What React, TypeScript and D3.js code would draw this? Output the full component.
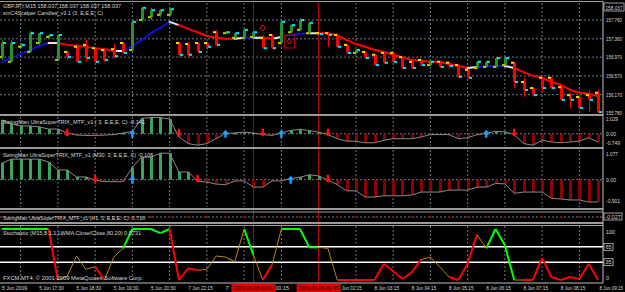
import React from 'react';
import * as d3 from 'd3';

const W = 625, H = 292;
const PR = 603; // plot right edge

// ---------- DATA ----------
const opens = [156.97,156.87,157.19,157.08,157.27,157.40,156.91,157.08,157.19,157.23,157.16,157.12,157.14,157.27,157.12,157.76,157.82,157.87,157.87,157.27,157.25,157.27,157.27,157.50,157.48,157.38,157.38,157.40,157.38,157.44,157.27,157.50,157.55,157.48,157.48,157.48,157.44,157.23,157.06,157.08,157.02,157.06,157.06,156.97,156.87,156.91,156.80,156.87,156.85,156.80,156.70,156.74,156.76,156.76,156.80,156.85,156.44,156.31,156.53,156.53,156.33,156.16,156.12,156.16,156.21];
const highs = [157.33,157.33,157.27,157.53,157.48,157.46,157.46,157.12,157.25,157.33,157.19,157.16,157.25,157.29,157.76,158.04,158.02,157.99,158.02,157.29,157.29,157.29,157.29,157.55,157.53,157.50,157.57,157.53,157.44,157.46,157.74,157.67,157.80,157.72,157.50,157.50,157.48,157.25,157.14,157.10,157.04,157.08,157.08,156.99,156.89,156.93,156.93,156.89,156.87,156.82,156.72,156.89,156.89,156.97,156.99,156.87,156.53,156.33,156.55,156.55,156.36,156.21,156.14,156.27,156.27];
const lows = [156.91,156.87,157.16,157.06,157.23,157.38,156.89,156.91,156.87,156.87,156.85,156.87,156.95,157.04,157.08,157.72,157.76,157.82,157.85,156.97,156.97,157.06,157.12,157.21,157.46,157.36,157.36,157.38,157.14,157.14,157.25,157.48,157.53,157.46,157.44,157.19,157.16,157.04,157.04,156.93,156.78,156.82,156.85,156.72,156.72,156.78,156.78,156.74,156.72,156.53,156.51,156.72,156.74,156.74,156.78,156.31,156.12,156.14,156.23,156.29,156.04,155.89,155.85,155.80,155.78];
const closes = [157.27,157.27,157.23,157.48,157.48,157.44,157.44,156.97,156.87,156.95,156.87,156.91,156.99,157.06,157.72,158.02,157.97,157.97,157.99,157.02,157.02,157.08,157.19,157.23,157.50,157.48,157.55,157.50,157.16,157.16,157.72,157.65,157.76,157.70,157.46,157.44,157.19,157.06,157.12,156.95,156.80,156.85,156.87,156.74,156.74,156.80,156.87,156.76,156.78,156.55,156.53,156.87,156.87,156.95,156.95,156.44,156.27,156.16,156.31,156.31,156.06,156.06,155.89,156.06,155.80];

const maValues = [156.87,156.95,157.04,157.12,157.21,157.27,157.27,157.23,157.21,157.19,157.16,157.14,157.10,157.10,157.21,157.33,157.48,157.59,157.72,157.65,157.57,157.50,157.42,157.38,157.36,157.36,157.38,157.38,157.38,157.36,157.40,157.44,157.46,157.48,157.48,157.48,157.44,157.33,157.25,157.19,157.12,157.08,157.02,156.97,156.91,156.89,156.87,156.87,156.82,156.78,156.74,156.76,156.78,156.78,156.78,156.74,156.65,156.57,156.53,156.44,156.38,156.27,156.21,156.19,156.14];
// segment colours: b = rising (blue), r = falling (red), w = flat (white)
const maSegColors = 'bbbbbwrrrrrrwbbbbbwrrrrrrwbwrwbbbwrrrrrrrrrrrrrrrrwbbbwrrrrrrrrr';

const trixM15 = [0.85,0.6,0.48,0.48,0.42,0.29,0.29,0.05,-0.08,-0.1,-0.1,-0.08,-0.05,0.05,0.15,0.95,1.0,1.0,0.9,-0.2,-0.6,-0.7,-0.6,-0.3,0.02,0.05,0.1,0.05,-0.05,-0.1,0.05,0.2,0.28,0.2,0.1,-0.05,-0.3,-0.45,-0.45,-0.55,-0.55,-0.4,-0.3,-0.3,-0.3,-0.2,-0.05,-0.05,-0.05,-0.3,-0.25,-0.05,0.02,0.15,0.12,-0.05,-0.6,-0.7,-0.4,-0.5,-0.55,-0.5,-0.45,-0.25,-0.5];
const trixM15Up = [14,24,30,52];
const trixM15Down = [7,19,28,35,55];

const trixM30 = [0.67,0.83,0.83,0.83,0.83,0.71,0.39,0.39,0.11,0.11,-0.02,-0.08,-0.08,-0.08,0.5,0.91,0.91,1.07,1.07,0.31,0.31,-0.05,-0.1,-0.18,-0.2,-0.05,-0.05,-0.3,-0.3,-0.05,-0.05,0.05,0.1,0.2,0.15,-0.02,-0.2,-0.45,-0.45,-0.7,-0.7,-0.65,-0.65,-0.65,-0.62,-0.5,-0.5,-0.5,-0.42,-0.42,-0.42,-0.3,-0.3,-0.15,-0.17,-0.55,-0.5,-0.5,-0.5,-0.75,-0.78,-0.82,-0.82,-0.9,-0.9];
const trixM30Up = [14,31];
const trixM30Down = [10,21,35];

const stochValues = [100,100,100,100,100,100,0,7.5,47,21,26,0,45,62,100,100,100,92,100,0,23,19,21,47,45,36,100,49,0,30,100,100,100,64,64,62,0,0,0,0,0,32,17,2,15,40,45,26,6,0,32,89,62,100,68,0,0,0,43,6,0,6,2,32,0];
// g = green, r = red, o = brown (per segment)
const stochSegColors = 'gggggrooooroogggggrrrooooogoroggggoorrrrrrrrrooorrrogggorrrrrrrrr';
const stochLevels = [65, 35];

// time labels every 4 bars; the parts hidden behind the red line boxes are not shown
const timeLabels = ['5 Jun 2009','5 Jun 17:30','5 Jun 18:30','5 Jun 19:30','5 Jun 20:30','7 Jun 22:15','7','00:15','','Jun 02:15','8 Jun 03:15','8 Jun 04:15','8 Jun 05:15','8 Jun 06:15','8 Jun 07:15','8 Jun 08:15','8 Jun 09:15'];
const timeLabelShift = [0,0,0,0,0,0,0,12.5,0,4.5,0,0,0,0,0,0,0];
const priceTicks = [157.76, 157.36, 156.97, 156.57, 156.17, 155.78];
const priceTickLabels = ['157.760','157.360','156.970','156.570','156.170','155.780'];
const vLineBars = [27, 34];
const vLineLabels = ['2009.06.08 00:00', '2009.06.08 01:45'];

// ---------- LAYOUT ----------
const N = closes.length;
const x = d3.scaleLinear().domain([0, N - 1]).range([2, 598]);
const yP = d3.scaleLinear().domain([155.78, 157.76]).range([113, 20]);
const yT1 = d3.scaleLinear().domain([-0.749, 1.029]).range([146, 117]);
const yT2 = d3.scaleLinear().domain([-0.901, 1.077]).range([202, 153]);
const yS = d3.scaleLinear().domain([0, 100]).range([280, 229]);

const FONT = 'Liberation Sans, Arial, sans-serif';
const TXT = '#d8d8d8';
const GRID = '#6d7b8a';

function T({ x, y, s, size = 6, fill = TXT, len, anchor }: any) {
  return (
    <text x={x} y={y} fontSize={size} fill={fill} fontFamily={FONT}
      textLength={len} lengthAdjust={len ? 'spacingAndGlyphs' : undefined}
      textAnchor={anchor}>{s}</text>
  );
}

function UpArrow({ cx, y, color }: any) {
  return <path d={`M${cx},${y} L${cx + 3.5},${y + 4} L${cx + 1.2},${y + 4} L${cx + 1.2},${y + 8} L${cx - 1.2},${y + 8} L${cx - 1.2},${y + 4} L${cx - 3.5},${y + 4} Z`} fill={color} />;
}
function DownArrow({ cx, y, color }: any) {
  return <path d={`M${cx},${y} L${cx + 3.5},${y - 4} L${cx + 1.2},${y - 4} L${cx + 1.2},${y - 8} L${cx - 1.2},${y - 8} L${cx - 1.2},${y - 4} L${cx - 3.5},${y - 4} Z`} fill={color} />;
}

export default function App() {
  const idx = d3.range(N);
  const gridX = d3.range(2, N, 4).map((i) => x(i));
  const maColor: any = { b: '#1010d0', r: '#ff0000', w: '#e8e8e8' };
  const stColor: any = { g: '#00ff00', r: '#ff0000', o: '#b8860b' };
  const stWidth: any = { g: 2, r: 2, o: 1 };

  const hLineDash = (y: number, key: string) => (
    <line key={key} x1={0} x2={PR} y1={y} y2={y} stroke={GRID} strokeDasharray="2,2" strokeWidth={1} />
  );

  const trixLine1 = d3.line<number>().x((_, i) => x(i)).y((d) => yT1(d))(trixM15) || '';
  const trixLine2 = d3.line<number>().x((_, i) => x(i)).y((d) => yT2(d))(trixM30) || '';
  const lastLabel = timeLabels.length - 1;

  return (
    <svg width={W} height={H} style={{ position: 'absolute', left: 0, top: 0, background: '#000' }}>
      <rect x={0} y={0} width={W} height={H} fill="#000" />

      {gridX.map((gx, k) => (
        <g key={'gx' + k}>
          <line x1={gx} x2={gx} y1={3} y2={113} stroke={GRID} strokeDasharray="2,2" />
          <line x1={gx} x2={gx} y1={117} y2={146} stroke={GRID} strokeDasharray="2,2" />
          <line x1={gx} x2={gx} y1={150} y2={207} stroke={GRID} strokeDasharray="2,2" />
          <line x1={gx} x2={gx} y1={226} y2={282} stroke={GRID} strokeDasharray="2,2" />
        </g>
      ))}
      {priceTicks.slice(0, 5).map((p, k) => hLineDash(yP(p), 'hp' + k))}
      {hLineDash(yT1(0), 'z1')}
      {hLineDash(yT2(0), 'z2')}
      {hLineDash(217, 'z3')}

      {vLineBars.map((b, k) => (
        <line key={'vl' + k} x1={x(b)} x2={x(b)} y1={3} y2={283} stroke="#c00000" strokeWidth={1} />
      ))}

      {idx.slice(0, N - 1).map((i) => (
        <line key={'ma' + i} x1={x(i)} y1={yP(maValues[i])} x2={x(i + 1)} y2={yP(maValues[i + 1])}
          stroke={maColor[maSegColors[i]]} strokeWidth={2} strokeLinecap="round" />
      ))}

      {idx.map((i) => {
        const up = closes[i] >= opens[i];
        const col = up ? '#2a8f2a' : '#ff0000';
        const top = yP(Math.max(opens[i], closes[i]));
        const bot = yP(Math.min(opens[i], closes[i]));
        const cx = Math.round(x(i));
        return (
          <g key={'c' + i}>
            <line x1={cx + 0.5} x2={cx + 0.5} y1={yP(highs[i])} y2={yP(lows[i])} stroke={col} strokeWidth={1} />
            <rect x={cx - 1} y={top} width={3} height={Math.max(1.5, bot - top)} fill={col} />
            <rect x={cx - 3} y={yP(opens[i]) - 1} width={3} height={2} fill={up ? '#b8c800' : '#ffd700'} />
            <rect x={cx + 1} y={yP(closes[i]) - 1} width={3} height={2} fill="#00e5ff" />
          </g>
        );
      })}

      <path d={`M${x(28)},${yP(157.59) - 3} l3,3 l-3,3 l-3,-3 Z`} fill="none" stroke="#ff2020" strokeWidth={1} />
      <rect x={x(30) + 3} y={yP(157.44)} width={10} height={13} fill="none" stroke="#c00000" strokeWidth={1} />
      <path d={`M${x(30) + 8},${yP(157.44) + 4} l2.5,2.5 l-2.5,2.5 l-2.5,-2.5 Z`} fill="none" stroke="#ff2020" strokeWidth={1} />

      {idx.map((i) => {
        const v = trixM15[i];
        const y0 = yT1(0), y1 = yT1(v);
        return <rect key={'t1' + i} x={Math.round(x(i)) - 1} y={Math.min(y0, y1)} width={3} height={Math.max(1.5, Math.abs(y1 - y0))} fill={v >= 0 ? '#3aa55a' : '#8b0000'} />;
      })}
      <path d={trixLine1} fill="none" stroke="#8a8a8a" strokeWidth={1} />
      {trixM15Up.map((i) => <UpArrow key={'u1' + i} cx={x(i)} y={yT1(0) - 4} color="#1e9fff" />)}
      {trixM15Down.map((i) => <DownArrow key={'d1' + i} cx={x(i)} y={yT1(0) + 3} color="#ff1010" />)}

      {idx.map((i) => {
        const v = trixM30[i];
        const y0 = yT2(0), y1 = yT2(v);
        return <rect key={'t2' + i} x={Math.round(x(i)) - 1} y={Math.min(y0, y1)} width={3} height={Math.max(1.5, Math.abs(y1 - y0))} fill={v >= 0 ? '#3aa55a' : '#8b0000'} />;
      })}
      <path d={trixLine2} fill="none" stroke="#8a8a8a" strokeWidth={1} />
      {trixM30Up.map((i) => <UpArrow key={'u2' + i} cx={x(i)} y={yT2(0) - 4} color="#1e9fff" />)}
      {trixM30Down.map((i) => <DownArrow key={'d2' + i} cx={x(i)} y={yT2(0) + 3} color="#ff1010" />)}

      {idx.filter((i) => i % 2 === 0).map((i) => (
        <rect key={'t3' + i} x={x(i) - 1} y={216} width={2} height={2} fill="#a00000" />
      ))}

      {stochLevels.map((l, k) => (
        <line key={'sl' + k} x1={0} x2={PR} y1={yS(l)} y2={yS(l)} stroke="#ffffff" strokeWidth={1.5} />
      ))}
      {idx.slice(0, N - 1).map((i) => {
        const c = stochSegColors[i];
        return <line key={'st' + i} x1={x(i)} y1={yS(stochValues[i])} x2={x(i + 1)} y2={yS(stochValues[i + 1])}
          stroke={stColor[c]} strokeWidth={stWidth[c]} />;
      })}

      <line x1={0} x2={PR} y1={1.5} y2={1.5} stroke="#9a9a9a" strokeWidth={1} />
      <rect x={0} y={114} width={PR} height={2} fill="#9a9a9a" />
      <rect x={0} y={147} width={PR} height={2} fill="#9a9a9a" />
      <rect x={0} y={208} width={PR} height={2} fill="#9a9a9a" />
      <rect x={0} y={211.5} width={PR} height={1} fill="#9a9a9a" />
      <rect x={0} y={222} width={PR} height={2} fill="#9a9a9a" />
      <rect x={0} y={225} width={PR} height={1} fill="#9a9a9a" />
      <line x1={PR} x2={PR} y1={1} y2={283} stroke="#c0c0c0" />
      <line x1={0} x2={PR} y1={283} y2={283} stroke="#c0c0c0" />

      <T x={3} y={8} s="GBPJPY,M15  158.037 158.037 158.037 158.037" len={118} />
      <T x={3} y={14.5} s="smC4Scalper Candles_v3.1 (3, E,E,E, C)" len={100} />
      <T x={3} y={124} s="SwingMan UltraSuperTRIX_MTF_v1 ( 3, E,E,E, C) -0.141" len={142} />
      <T x={3} y={157} s="SwingMan UltraSuperTRIX_MTF_v1 (M30, 3, E,E,E, C) -0.108" len={150} />
      <T x={3} y={219.5} s="SwingMan UltraSuperTRIX_MTF_v1 (H1, 3, E,E,E, C) -0.716" len={142} />
      <T x={3} y={235} s="Stochastic (M15,8,1,1,LWMA,Close/Close,80,20) 0.0731" len={138} />
      <T x={3} y={280} s="FXCM MT4, © 2001-2009 MetaQuotes Software Corp." len={140} />

      <rect x={604} y={3} width={20} height={8} fill="#000" stroke="#c0c0c0" strokeWidth={0.8} />
      <T x={605.5} y={9.5} s="158.037" size={5.5} len={17} />
      {priceTicks.map((p, k) => (
        <T key={'pt' + k} x={606} y={yP(p) + 2} s={priceTickLabels[k]} size={5.5} len={16} />
      ))}
      <T x={606} y={121} s="1.029" size={5.5} len={12} />
      <T x={606} y={yT1(0) + 2} s="0.00" size={5.5} len={10} />
      <T x={606} y={145} s="-0.749" size={5.5} len={14} />
      <T x={606} y={156} s="1.077" size={5.5} len={12} />
      <T x={606} y={yT2(0) + 2} s="0.00" size={5.5} len={10} />
      <T x={606} y={203} s="-0.901" size={5.5} len={14} />
      <rect x={604} y={213} width={18} height={7} fill="#000" stroke="#c0c0c0" strokeWidth={0.8} />
      <T x={605} y={218.5} s="-0.027" size={5.5} len={16} />
      <T x={606} y={234} s="100" size={5.5} len={9} />
      {stochLevels.map((l, k) => (
        <g key={'lv' + k}>
          <rect x={604} y={yS(l) - 3.5} width={9} height={7} fill="#000" stroke="#c0c0c0" strokeWidth={0.8} />
          <T x={605.5} y={yS(l) + 2} s={String(l)} size={5.5} len={6} />
        </g>
      ))}
      <T x={606} y={280} s="0" size={5.5} />

      {timeLabels.map((s, k) => {
        if (!s) return null;
        if (k === lastLabel) {
          return <T key={'tl' + k} x={623} y={290} s={s} size={5} anchor="end" len={23.5} />;
        }
        return (
          <T key={'tl' + k} x={x(k * 4) + timeLabelShift[k]} y={290} s={s} size={5.5}
            len={s.length > 6 ? (k === 0 ? 25 : (s.length === 11 ? 24.5 : 20)) : undefined} />
        );
      })}
      {vLineBars.map((b, k) => (
        <g key={'vb' + k}>
          <rect x={x(b) - 22} y={284} width={44} height={8} fill="#e00000" />
          <T x={x(b)} y={290} s={vLineLabels[k]} size={5.5} fill="#200000" anchor="middle" len={40} />
        </g>
      ))}
    </svg>
  );
}
